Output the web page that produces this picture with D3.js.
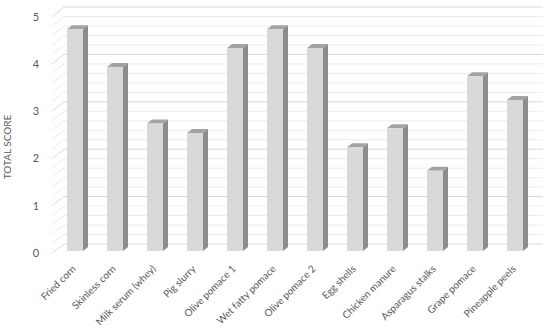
<!DOCTYPE html>
<html>
<head>
<meta charset="utf-8">
<script src="https://cdn.jsdelivr.net/npm/d3@7"></script>
<style>
  body { margin: 0; background: #fff; }
  text { font-family: Lato, "Open Sans", sans-serif; fill: #595959; }
</style>
</head>
<body>
<script>
const categories = ['Fried corn', 'Skinless corn', 'Milk serum (whey)', 'Pig slurry', 'Olive pomace 1',
    'Wet fatty pomace', 'Olive pomace 2', 'Egg shells', 'Chicken manure', 'Asparagus stalks',
    'Grape pomace', 'Pineapple peels'];
const scores = [4.7, 3.9, 2.7, 2.5, 4.3, 4.7, 4.3, 2.2, 2.6, 1.7, 3.7, 3.2];
const yTicks = [0, 1, 2, 3, 4, 5];

const width = 550;
const height = 331;
const depthX = 5;
const depthY = 4;

const svg = d3.select('body')
    .append('svg')
    .attr('width', width)
    .attr('height', height);

const x = d3.scaleBand()
    .domain(categories)
    .range([55, 535])
    .paddingInner(0.6)
    .paddingOuter(0.3);

// bars, back wall and front edge of the side wall each get their own vertical scale
const yBar = d3.scaleLinear().domain([0, 5]).range([251, 15]);
const yBack = d3.scaleLinear().domain([0, 5]).range([244, 7]);
const yFront = d3.scaleLinear().domain([0, 5]).range([253, 17]);

const wallLeft = 64;
const wallRight = 543;
const sideLeft = 52;

const gridValues = d3.range(0, 26).map(i => i / 5);
const gridColor = d => Number.isInteger(Math.round(d * 100) / 100) ? '#d9d9d9' : '#ececec';

const grid = svg.append('g');

grid.selectAll('line.back')
    .data(gridValues)
    .join('line')
    .attr('class', 'back')
    .attr('x1', wallLeft)
    .attr('x2', wallRight)
    .attr('y1', d => yBack(d))
    .attr('y2', d => yBack(d))
    .attr('stroke', gridColor);

grid.selectAll('line.side')
    .data(gridValues)
    .join('line')
    .attr('class', 'side')
    .attr('x1', sideLeft)
    .attr('x2', wallLeft)
    .attr('y1', d => yFront(d))
    .attr('y2', d => yBack(d))
    .attr('stroke', gridColor);

svg.append('g')
    .selectAll('text')
    .data(yTicks)
    .join('text')
    .attr('x', 36)
    .attr('y', d => yFront(d))
    .attr('dy', '0.35em')
    .attr('text-anchor', 'middle')
    .style('font-size', '11px')
    .text(d => d);

svg.append('text')
    .attr('transform', `translate(11, ${(yFront(0) + yFront(5)) / 2 + 12}) rotate(-90)`)
    .attr('text-anchor', 'middle')
    .style('font-size', '10px')
    .text('TOTAL SCORE');

const bars = svg.append('g')
    .selectAll('g')
    .data(categories.map((c, i) => ({ name: c, value: scores[i] })))
    .join('g');

const bw = x.bandwidth();

bars.append('path')
    .attr('d', d => {
        const x0 = x(d.name) + bw;
        const yt = yBar(d.value);
        const yb = yBar(0);
        return `M${x0},${yt}L${x0 + depthX},${yt - depthY}L${x0 + depthX},${yb - depthY}L${x0},${yb}Z`;
    })
    .attr('fill', '#8c8c8c');

bars.append('path')
    .attr('d', d => {
        const x0 = x(d.name);
        const yt = yBar(d.value);
        return `M${x0},${yt}L${x0 + depthX},${yt - depthY}L${x0 + bw + depthX},${yt - depthY}L${x0 + bw},${yt}Z`;
    })
    .attr('fill', '#a3a3a3');

bars.append('rect')
    .attr('x', d => x(d.name))
    .attr('y', d => yBar(d.value))
    .attr('width', bw)
    .attr('height', d => yBar(0) - yBar(d.value))
    .attr('fill', '#d9d9d9');

svg.append('g')
    .selectAll('text')
    .data(categories)
    .join('text')
    .attr('transform', d => `translate(${x(d) + bw / 2 - 1}, 267) rotate(-45)`)
    .attr('text-anchor', 'end')
    .attr('dy', '0.35em')
    .style('font-size', '10px')
    .text(d => d);
</script>
</body>
</html>
